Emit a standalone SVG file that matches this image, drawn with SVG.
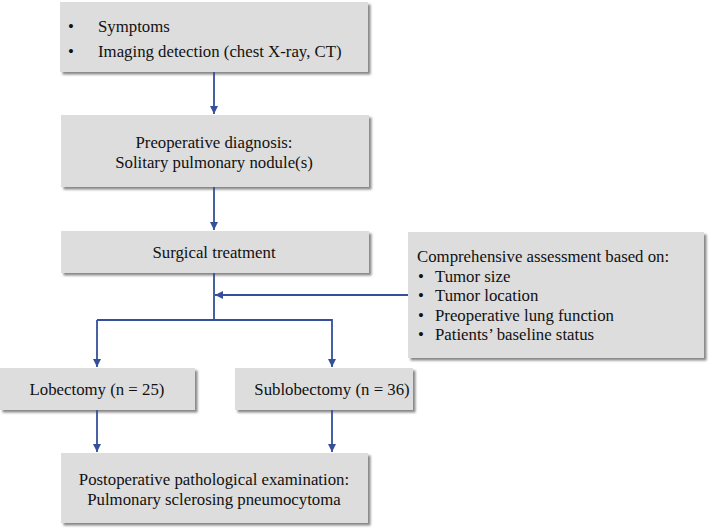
<svg xmlns="http://www.w3.org/2000/svg" width="709" height="530" viewBox="0 0 709 530">
<defs>
<filter id="sh" x="-5%" y="-10%" width="115%" height="130%">
<feDropShadow dx="2.5" dy="2.5" stdDeviation="1.2" flood-color="#7a7a7a" flood-opacity="0.9"/>
</filter>
<marker id="ah" viewBox="0 0 10 10" refX="10" refY="5" markerWidth="8" markerHeight="8" markerUnits="userSpaceOnUse" orient="auto">
<path d="M0,0 L10,5 L0,10 z" fill="#34509a"/>
</marker>
</defs>
<style>
.box{fill:#dddddd;filter:url(#sh)}
text{font-family:'Liberation Serif','Tinos','DejaVu Serif',serif;font-size:16.8px;fill:#111}
.c{text-anchor:middle}
.ln{stroke:#34509a;stroke-width:1.8;fill:none}
</style>
<g id="n1">
<rect class="box" x="60" y="2" width="308" height="70"/>
<text x="68" y="32">•</text><text x="98" y="32">Symptoms</text>
<text x="68" y="57">•</text><text x="98" y="57">Imaging detection (chest X-ray, CT)</text>
</g>
<g id="n2">
<rect class="box" x="61" y="115" width="308" height="72"/>
<text class="c" x="214" y="148">Preoperative diagnosis:</text>
<text class="c" x="214" y="168">Solitary pulmonary nodule(s)</text>
</g>
<g id="n3">
<rect class="box" x="61" y="231" width="308" height="42"/>
<text class="c" x="214" y="258">Surgical treatment</text>
</g>
<g id="n4">
<rect class="box" x="408" y="232" width="296" height="126"/>
<text x="417" y="262">Comprehensive assessment based on:</text>
<text x="418" y="282">•</text><text x="435" y="282">Tumor size</text>
<text x="418" y="301">•</text><text x="435" y="301">Tumor location</text>
<text x="418" y="321">•</text><text x="435" y="321">Preoperative lung function</text>
<text x="418" y="340">•</text><text x="435" y="340">Patients’ baseline status</text>
</g>
<g id="n5">
<rect class="box" x="0" y="368" width="195" height="42"/>
<text class="c" x="97" y="395">Lobectomy (n = 25)</text>
</g>
<g id="n6">
<rect class="box" x="235" y="368" width="178" height="42"/>
<text class="c" x="332" y="395">Sublobectomy (n = 36)</text>
</g>
<g id="n7">
<rect class="box" x="61" y="453" width="307" height="70"/>
<text class="c" x="214" y="485">Postoperative pathological examination:</text>
<text class="c" x="214" y="505">Pulmonary sclerosing pneumocytoma</text>
</g>
<g id="connectors">
<line class="ln" x1="214" y1="72" x2="214" y2="114" marker-end="url(#ah)"/>
<line class="ln" x1="214" y1="187" x2="214" y2="230" marker-end="url(#ah)"/>
<line class="ln" x1="214" y1="273" x2="214" y2="320"/>
<line class="ln" x1="408" y1="295" x2="215" y2="295" marker-end="url(#ah)"/>
<polyline class="ln" points="97,320 332,320 332,367" marker-end="url(#ah)"/>
<line class="ln" x1="97" y1="320" x2="97" y2="367" marker-end="url(#ah)"/>
<line class="ln" x1="97" y1="410" x2="97" y2="452" marker-end="url(#ah)"/>
<line class="ln" x1="332" y1="410" x2="332" y2="452" marker-end="url(#ah)"/>
</g>
</svg>
